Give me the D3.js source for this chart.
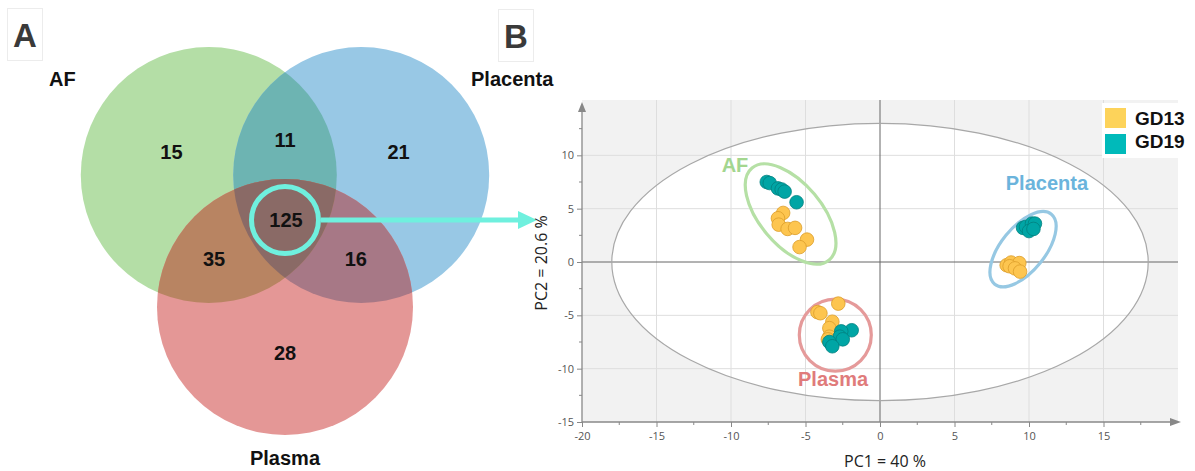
<!DOCTYPE html>
<html>
<head>
<meta charset="utf-8">
<script src="https://cdn.jsdelivr.net/npm/d3@7"></script>
<style>
  body { margin: 0; background: #fff; }
  svg { display: block; }
</style>
</head>
<body>
<svg id="chart" width="1195" height="471"></svg>
<script>
// ---- Venn data (panel A)
const vennSets = ["AF", "Placenta", "Plasma"];
const vennOnly = [15, 21, 28];          // AF only, Placenta only, Plasma only
const vennPairs = [11, 16, 35];         // AF∩Placenta, Placenta∩Plasma, AF∩Plasma
const vennAll = 125;

// ---- PCA scores (panel B), [PC1, PC2]
const afGD13 = [[-6.5, 4.6], [-6.85, 4.1], [-6.8, 3.5], [-6.2, 3.1], [-5.7, 3.2], [-4.9, 2.1], [-5.4, 1.4]];
const afGD19 = [[-7.6, 7.5], [-7.4, 7.4], [-6.85, 6.9], [-6.6, 6.8], [-6.4, 6.6], [-5.6, 5.6]];
const placentaGD13 = [[8.5, -0.3], [8.8, -0.05], [9.35, -0.1], [8.7, -0.4], [9.06, -0.6], [9.4, -0.9]];
const placentaGD19 = [[9.6, 3.2], [9.8, 3.3], [10.2, 3.6], [10.4, 3.6], [10.0, 2.9], [10.3, 3.1]];
const plasmaGD13 = [[-2.8, -3.9], [-4.2, -4.7], [-4.0, -4.8], [-3.2, -5.6], [-3.4, -6.2], [-3.4, -7.0], [-3.5, -7.25]];
const plasmaGD19 = [[-1.9, -6.4], [-2.6, -6.5], [-2.7, -7.0], [-2.5, -7.25], [-3.4, -7.5], [-3.2, -7.9]];
const groupNames = ["AF", "Placenta", "Plasma"];
const groupCenters = [[-6.0, 4.5], [9.6, 1.2], [-3.0, -6.85]];
const groupLabelPos = [[-9.73, 8.43], [11.2, 6.75], [-3.15, -11.6]];
const seriesNames = ["GD13", "GD19"];
const xTicks = [-20, -15, -10, -5, 0, 5, 10, 15];
const yTicks = [-15, -10, -5, 0, 5, 10];
const hotelling = [18, 13]; // semi-axes in PC units

const svg = d3.select("#chart");

// ================= Panel A : Venn =================
function drawPanelLabel(x, y, letter) {
    svg.append("rect")
        .attr("x", x).attr("y", y)
        .attr("width", 35).attr("height", 52)
        .attr("fill", "#fff")
        .attr("stroke", "#ececec");
    svg.append("text")
        .attr("x", x + 17.5).attr("y", y + 38)
        .attr("text-anchor", "middle")
        .attr("font-family", "Liberation Sans, Arial, sans-serif")
        .attr("font-weight", "bold")
        .attr("font-size", 33)
        .attr("fill", "#3a3a3a")
        .text(letter);
}
drawPanelLabel(7.5, 8.5, "A");
drawPanelLabel(498.5, 9.5, "B");

const venn = { cx: 285, cy: 219, d: 88, r: 128 };
const angles = [-150, -30, 90].map(a => a * Math.PI / 180);
const centers = angles.map(a => [venn.cx + venn.d * Math.cos(a), venn.cy + venn.d * Math.sin(a)]);
const singleColors = ["#b4dea6", "#98c8e5", "#e49796"];
const pairColors = ["#6db4b2", "#a77886", "#b88462"]; // G∩B, B∩R, G∩R
const pairIdx = [[0, 1], [1, 2], [0, 2]];
const tripleColor = "#8a6a66";

const defs = svg.append("defs");
centers.forEach((c, i) => {
    defs.append("clipPath").attr("id", "clip" + i)
        .append("circle").attr("cx", c[0]).attr("cy", c[1]).attr("r", venn.r);
});

const vg = svg.append("g");
centers.forEach((c, i) => {
    vg.append("circle")
        .attr("cx", c[0]).attr("cy", c[1]).attr("r", venn.r)
        .attr("fill", singleColors[i]);
});
pairIdx.forEach(([a, b], k) => {
    vg.append("g").attr("clip-path", `url(#clip${a})`)
        .append("circle")
        .attr("cx", centers[b][0]).attr("cy", centers[b][1]).attr("r", venn.r)
        .attr("fill", pairColors[k]);
});
vg.append("g").attr("clip-path", "url(#clip0)")
    .append("g").attr("clip-path", "url(#clip1)")
    .append("circle")
    .attr("cx", centers[2][0]).attr("cy", centers[2][1]).attr("r", venn.r)
    .attr("fill", tripleColor);

function vennText(x, y, t) {
    svg.append("text")
        .attr("x", x).attr("y", y)
        .attr("text-anchor", "middle")
        .attr("dominant-baseline", "central")
        .attr("font-family", "Liberation Sans, Arial, sans-serif")
        .attr("font-weight", "bold")
        .attr("font-size", 20)
        .attr("fill", "#111")
        .text(t);
}
vennOnly.forEach((v, i) => {
    const a = angles[i];
    vennText(venn.cx + 1.49 * venn.d * Math.cos(a), venn.cy + 1.52 * venn.d * Math.sin(a), v);
});
pairIdx.forEach(([a, b], k) => {
    const third = [0, 1, 2].find(t => t !== a && t !== b);
    const ang = angles[third] + Math.PI;
    vennText(venn.cx + 0.93 * venn.d * Math.cos(ang), venn.cy + 0.9 * venn.d * Math.sin(ang), vennPairs[k]);
});

// highlight ring + arrow
const ringColor = "#6ff0de";
svg.append("circle")
    .attr("cx", venn.cx).attr("cy", venn.cy + 1).attr("r", 33.5)
    .attr("fill", "none")
    .attr("stroke", ringColor)
    .attr("stroke-width", 5);
vennText(venn.cx + 1, venn.cy + 1, vennAll);
svg.append("line")
    .attr("x1", venn.cx + 36).attr("y1", venn.cy + 1)
    .attr("x2", 520).attr("y2", venn.cy + 1)
    .attr("stroke", ringColor)
    .attr("stroke-width", 5);
svg.append("path")
    .attr("d", `M518,${venn.cy - 8} L537,${venn.cy + 1} L518,${venn.cy + 10} Z`)
    .attr("fill", ringColor);

// set names
const setLabel = svg.append("g")
    .attr("font-family", "Liberation Sans, Arial, sans-serif")
    .attr("font-weight", "bold")
    .attr("font-size", 20)
    .attr("fill", "#111");
setLabel.append("text").attr("x", 49).attr("y", 86).text(vennSets[0]);
setLabel.append("text").attr("x", 471).attr("y", 86).text(vennSets[1]);
setLabel.append("text").attr("x", venn.cx).attr("y", 465).attr("text-anchor", "middle").text(vennSets[2]);

// ================= Panel B : PCA scores =================
const x = d3.scaleLinear().domain([-20, 0]).range([582, 880]);
const y = d3.scaleLinear().domain([-15, 0]).range([422, 262]);
const xMax = 1178, yTop = 100;

svg.append("rect")
    .attr("x", x(-20)).attr("y", yTop)
    .attr("width", xMax - x(-20)).attr("height", y(-15) - yTop)
    .attr("fill", "#f2f2f2");

// Hotelling ellipse interior
const hRx = x(hotelling[0]) - x(0), hRy = y(0) - y(hotelling[1]);
svg.append("ellipse")
    .attr("cx", x(0)).attr("cy", y(0))
    .attr("rx", hRx).attr("ry", hRy)
    .attr("fill", "#fff");

// grid
const grid = svg.append("g").attr("stroke", "#dedede").attr("stroke-width", 1);
xTicks.filter(t => t !== 0 && t !== -20).forEach(t => {
    grid.append("line").attr("x1", x(t)).attr("x2", x(t)).attr("y1", yTop).attr("y2", y(-15));
});
yTicks.filter(t => t !== 0 && t !== -15).forEach(t => {
    grid.append("line").attr("x1", x(-20)).attr("x2", xMax).attr("y1", y(t)).attr("y2", y(t));
});
svg.append("line").attr("x1", x(0)).attr("x2", x(0)).attr("y1", yTop).attr("y2", y(-15))
    .attr("stroke", "#666").attr("stroke-width", 1);
svg.append("line").attr("x1", x(-20)).attr("x2", xMax).attr("y1", y(0)).attr("y2", y(0))
    .attr("stroke", "#666").attr("stroke-width", 1);

svg.append("ellipse")
    .attr("cx", x(0)).attr("cy", y(0))
    .attr("rx", hRx).attr("ry", hRy)
    .attr("fill", "none")
    .attr("stroke", "#a8a8a8")
    .attr("stroke-width", 1.2);

// axes
const axisFont = "Open Sans, Noto Sans, sans-serif";
const plain = d => String(d);
const xAxis = svg.append("g")
    .attr("transform", `translate(0,${y(-15)})`)
    .call(d3.axisBottom(x).tickValues(xTicks).tickSize(5).tickPadding(5).tickFormat(plain));
const yAxis = svg.append("g")
    .attr("transform", `translate(${x(-20)},0)`)
    .call(d3.axisLeft(y).tickValues(yTicks).tickSize(5).tickPadding(3).tickFormat(plain));
[xAxis, yAxis].forEach(a => {
    a.select(".domain").remove();
    a.selectAll(".tick line").attr("stroke", "#888");
    a.selectAll(".tick text").attr("fill", "#555").attr("font-size", 11).attr("font-family", axisFont);
});
const minorX = d3.range(-17.5, 20, 5), minorY = d3.range(-12.5, 15, 5);
minorX.forEach(t => svg.append("line").attr("x1", x(t)).attr("x2", x(t))
    .attr("y1", y(-15)).attr("y2", y(-15) + 3).attr("stroke", "#888"));
minorY.forEach(t => svg.append("line").attr("y1", y(t)).attr("y2", y(t))
    .attr("x1", x(-20)).attr("x2", x(-20) - 3).attr("stroke", "#888"));

svg.append("line").attr("x1", x(-20)).attr("x2", 1172).attr("y1", y(-15)).attr("y2", y(-15))
    .attr("stroke", "#888").attr("stroke-width", 1.3);
svg.append("line").attr("x1", x(-20)).attr("x2", x(-20)).attr("y1", y(-15)).attr("y2", 110)
    .attr("stroke", "#888").attr("stroke-width", 1.3);
svg.append("path").attr("d", `M1170,${y(-15) - 4} L1181,${y(-15)} L1170,${y(-15) + 4} Z`).attr("fill", "#888");
svg.append("path").attr("d", `M${x(-20) - 4},112 L${x(-20)},102 L${x(-20) + 4},112 Z`).attr("fill", "#888");

svg.append("text")
    .attr("x", 885).attr("y", 467)
    .attr("text-anchor", "middle")
    .attr("font-family", axisFont).attr("font-size", 16).attr("fill", "#222")
    .text("PC1 = 40 %");
svg.append("text")
    .attr("transform", `translate(547,263) rotate(-90)`)
    .attr("text-anchor", "middle")
    .attr("font-family", axisFont).attr("font-size", 16).attr("fill", "#222")
    .text("PC2 = 20.6 %");

// group ellipses
const groupStroke = ["#b5e0a5", "#96c8e3", "#e59a9a"];
const groupText = ["#a3d68f", "#6bb4dc", "#e07b7b"];
const groupShape = [[60, 31, 50], [45, 22, -51], [36, 36, 0]];
groupCenters.forEach((c, i) => {
    svg.append("ellipse")
        .attr("transform", `translate(${x(c[0])},${y(c[1])}) rotate(${groupShape[i][2]})`)
        .attr("rx", groupShape[i][0]).attr("ry", groupShape[i][1])
        .attr("fill", "none")
        .attr("stroke", groupStroke[i])
        .attr("stroke-width", 3.2);
    svg.append("text")
        .attr("x", x(groupLabelPos[i][0])).attr("y", y(groupLabelPos[i][1]))
        .attr("text-anchor", "middle")
        .attr("font-family", "Liberation Sans, Arial, sans-serif")
        .attr("font-weight", "bold")
        .attr("font-size", 20)
        .attr("fill", groupText[i])
        .text(groupNames[i]);
});

// points
const ptFill = ["#fdc54f", "#00a5a5"];
const ptStroke = ["#dc9d2a", "#00807f"];
const gd13 = [afGD13, placentaGD13, plasmaGD13].flat();
const gd19 = [afGD19, placentaGD19, plasmaGD19].flat();
[gd13, gd19].forEach((pts, s) => {
    svg.append("g").selectAll("circle").data(pts).join("circle")
        .attr("cx", d => x(d[0])).attr("cy", d => y(d[1]))
        .attr("r", 6.8)
        .attr("fill", ptFill[s])
        .attr("stroke", ptStroke[s])
        .attr("stroke-width", 0.8);
});

// legend
svg.append("rect").attr("x", 1102).attr("y", 103).attr("width", 93).attr("height", 55).attr("fill", "#fff");
const legColors = ["#fdd35a", "#00baba"];
seriesNames.forEach((name, i) => {
    svg.append("rect")
        .attr("x", 1105).attr("y", 108 + i * 26)
        .attr("width", 21).attr("height", 20)
        .attr("fill", legColors[i]);
    svg.append("text")
        .attr("x", 1135).attr("y", 125 + i * 23)
        .attr("font-family", "Liberation Sans, Arial, sans-serif")
        .attr("font-weight", "bold")
        .attr("font-size", 19)
        .attr("fill", "#111")
        .text(name);
});
</script>
</body>
</html>
